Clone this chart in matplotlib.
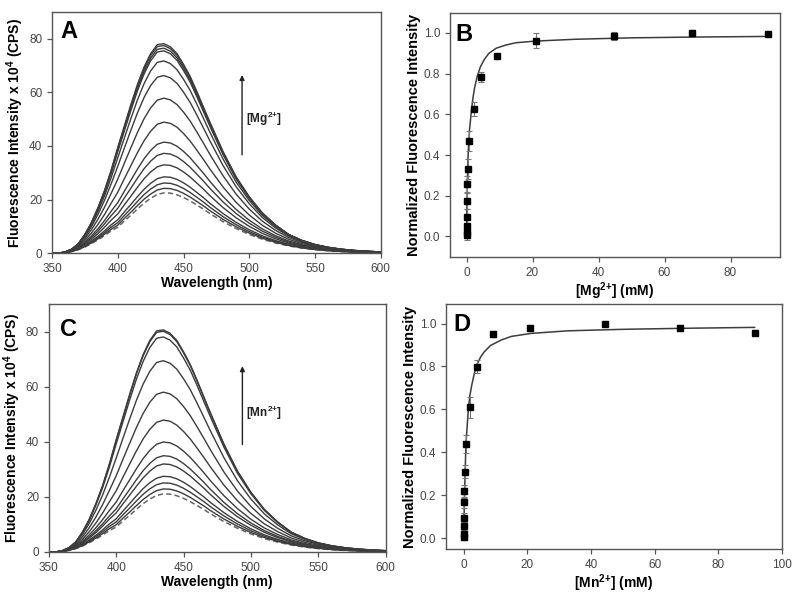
import matplotlib
matplotlib.use("Agg")
import matplotlib.pyplot as plt
import numpy as np

plt.rcParams['font.family'] = ['Liberation Sans', 'DejaVu Sans']
plt.rcParams['mathtext.fontset'] = 'custom'
plt.rcParams['mathtext.rm'] = 'Liberation Sans'
plt.rcParams['mathtext.bf'] = 'Liberation Sans:bold'

# ---- spectra ----
wavelength = [350, 355, 360, 365, 370, 375, 380, 385, 390, 395, 400, 405, 410, 415,
              420, 425, 430, 435, 440, 445, 450, 455, 460, 465, 470, 475, 480, 490,
              500, 510, 520, 530, 540, 550, 560, 570, 580, 590, 600]
# top spectrum, normalised to its peak
shape_high = [0.0, 0.0, 0.006, 0.019, 0.045, 0.089, 0.146, 0.217, 0.299, 0.395,
              0.503, 0.605, 0.707, 0.803, 0.885, 0.949, 0.991, 0.996, 0.981, 0.949,
              0.898, 0.841, 0.771, 0.697, 0.624, 0.554, 0.484, 0.363, 0.268, 0.191,
              0.134, 0.089, 0.061, 0.041, 0.028, 0.019, 0.013, 0.009, 0.006]
# dashed (no metal) spectrum, normalised to its peak
shape_low = [0.0, 0.0, 0.009, 0.027, 0.058, 0.102, 0.160, 0.222, 0.293, 0.369,
             0.430, 0.533, 0.631, 0.733, 0.831, 0.911, 0.973, 1.0, 0.996, 0.969,
             0.924, 0.867, 0.800, 0.733, 0.658, 0.591, 0.524, 0.409, 0.311, 0.231,
             0.169, 0.120, 0.084, 0.058, 0.040, 0.027, 0.018, 0.013, 0.009]

peaks_mg = [22.5, 24.2, 26.2, 28.5, 33.0, 37.3, 41.5, 49.0, 58.0, 66.5, 72.0,
            75.8, 76.8, 77.8, 78.5]
peaks_mn = [21.1, 22.9, 25.1, 27.5, 32.0, 35.0, 40.0, 48.0, 58.2, 69.7, 78.4,
            80.5, 81.0]

# ---- titration points ----
mg_conc = [0, 0.02, 0.05, 0.1, 0.15, 0.25, 0.45, 0.9, 2.2, 4.5, 9.3, 21.0, 44.7, 68.2, 91.4]
mg_norm = [0.005, 0.02, 0.053, 0.094, 0.175, 0.258, 0.330, 0.468, 0.627, 0.783,
           0.886, 0.961, 0.986, 1.002, 0.993]
mg_err = [0.02, 0.03, 0.04, 0.04, 0.04, 0.04, 0.05, 0.05, 0.035, 0.025, 0.01,
          0.037, 0.02, 0.012, 0.01]
mg_fit_x = [0, 0.1, 0.25, 0.5, 0.9, 1.5, 2.0, 2.5, 3.3, 4.2, 5.4, 6.8, 9.0, 11.8,
            15.0, 20.9, 33.0, 50.0, 70.0, 92.0]
mg_fit_y = [0, 0.12, 0.26, 0.405, 0.52, 0.62, 0.685, 0.734, 0.79, 0.833, 0.87,
            0.90, 0.925, 0.94, 0.952, 0.96, 0.969, 0.976, 0.98, 0.983]

mn_conc = [0, 0.02, 0.05, 0.1, 0.15, 0.25, 0.4, 0.8, 2.0, 4.2, 9.2, 20.9, 44.5, 68.1, 91.4]
mn_norm = [0.006, 0.022, 0.057, 0.096, 0.168, 0.219, 0.309, 0.439, 0.609, 0.799,
           0.951, 0.981, 1.0, 0.981, 0.958]
mn_err = [0.015, 0.02, 0.02, 0.02, 0.025, 0.03, 0.03, 0.04, 0.05, 0.031, 0.012,
          0.01, 0.008, 0.012, 0.012]
mn_fit_x = [0, 0.25, 0.47, 0.78, 1.5, 2.0, 2.6, 3.4, 4.4, 5.4, 6.5, 8.5, 11.8, 15.0,
            21.2, 32.7, 50.0, 70.0, 91.4]
mn_fit_y = [0, 0.15, 0.289, 0.444, 0.598, 0.665, 0.714, 0.768, 0.815, 0.845, 0.868,
            0.898, 0.923, 0.94, 0.954, 0.966, 0.973, 0.978, 0.982]

label_kw = dict(fontsize=10, fontweight='bold')
gray = '#3c3c3c'

fig = plt.figure(figsize=(8, 6), dpi=100)
axA = fig.add_axes([0.065, 0.578, 0.411, 0.402])
axB = fig.add_axes([0.5625, 0.572, 0.4125, 0.407])
axC = fig.add_axes([0.061, 0.080, 0.421, 0.413])
axD = fig.add_axes([0.5575, 0.085, 0.420, 0.408])


def style(ax):
    for sp in ax.spines.values():
        sp.set_color('#555555')
        sp.set_linewidth(1.0)
    ax.tick_params(direction='out', length=3.5, width=0.9, colors='#555555',
                   labelcolor='#444444', labelsize=8.5, top=False, right=False)


def spectra(ax, peaks, ion, arrow_x, arrow_y0, arrow_y1, text_y):
    wl = np.array(wavelength)
    hi = np.array(shape_high)
    lo = np.array(shape_low)
    pmin, pmax = peaks[0], peaks[-1]
    for i, p in enumerate(peaks):
        w = (p - pmin) / (pmax - pmin)
        y = p * (w * hi + (1 - w) * lo)
        if i == 0:
            ax.plot(wl, y, color='#666666', lw=1.1, ls=(0, (3.5, 2)))
        else:
            ax.plot(wl, y, color=gray, lw=1.0)
    ax.set_xlim(350, 600)
    ax.set_ylim(0, 90)
    ax.set_xticks([350, 400, 450, 500, 550, 600])
    ax.set_yticks([0, 20, 40, 60, 80])
    ax.set_xlabel('Wavelength (nm)', labelpad=1, **label_kw)
    ax.set_ylabel(r'Fluorescence Intensity x 10$^\mathbf{4}$ (CPS)', labelpad=2, **label_kw)
    ax.annotate('', xy=(arrow_x, arrow_y1), xytext=(arrow_x, arrow_y0),
                arrowprops=dict(arrowstyle='-|>', color='#222222', lw=1.0,
                                mutation_scale=7, shrinkA=0, shrinkB=0))
    ax.text(arrow_x + 3, text_y, '[%s$^{\\mathbf{2{+}}}$]' % ion, fontsize=8.5,
            fontweight='bold', va='center', ha='left', color='#222222')
    style(ax)


def titration(ax, conc, norm, err, fit_x, fit_y, ion, xlim, ylim, xticks):
    ax.plot(fit_x, fit_y, color=gray, lw=1.1, zorder=2)
    ax.errorbar(conc, norm, yerr=err, fmt='s', color='black', ms=5,
                ecolor='#777777', elinewidth=0.8, capsize=2.5, capthick=0.8, zorder=3)
    ax.set_xlim(*xlim)
    ax.set_ylim(*ylim)
    ax.set_xticks(xticks)
    ax.set_yticks([0.0, 0.2, 0.4, 0.6, 0.8, 1.0])
    ax.set_yticklabels(['%.1f' % v for v in [0.0, 0.2, 0.4, 0.6, 0.8, 1.0]])
    ax.set_xlabel('[%s$^{\\mathbf{2{+}}}$] (mM)' % ion, labelpad=1, **label_kw)
    ax.set_ylabel('Normalized Fluorescence Intensity', labelpad=2,
                  fontsize=10.5, fontweight='bold')
    style(ax)


spectra(axA, peaks_mg, 'Mg', 494.5, 36.7, 66.5, 50)
spectra(axC, peaks_mn, 'Mn', 493.7, 39, 67.5, 50.5)
titration(axB, mg_conc, mg_norm, mg_err, mg_fit_x, mg_fit_y, 'Mg',
          (-5, 95), (-0.1, 1.1), [0, 20, 40, 60, 80])
titration(axD, mn_conc, mn_norm, mn_err, mn_fit_x, mn_fit_y, 'Mn',
          (-5.5, 100), (-0.05, 1.09), [0, 20, 40, 60, 80, 100])

for ax, letter, x, y in [(axA, 'A', 0.027, 0.967), (axB, 'B', 0.015, 0.959),
                         (axC, 'C', 0.033, 0.944), (axD, 'D', 0.021, 0.963)]:
    ax.text(x, y, letter, transform=ax.transAxes, fontsize=17, fontweight='bold',
            va='top', ha='left')

fig.savefig('out.png', dpi=100)
